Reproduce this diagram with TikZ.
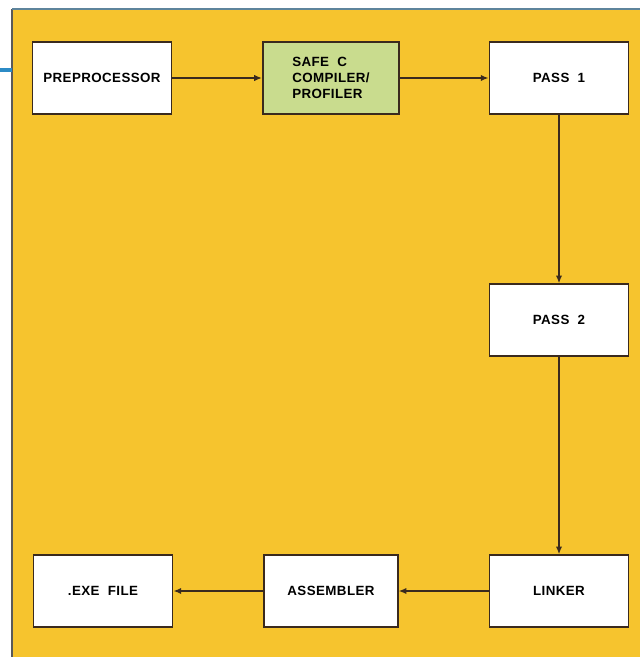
\documentclass[tikz,border=0pt]{standalone}
\usepackage{fontspec}
\setsansfont{Liberation Sans}[LetterSpace=3]
\usepackage{tikz}
\usetikzlibrary{arrows.meta}
\definecolor{panel}{HTML}{F6C42E}
\definecolor{safegreen}{HTML}{C9DC8E}
\definecolor{edgeblue}{HTML}{2C8BC6}
\definecolor{ink}{HTML}{3A2A1E}
\tikzset{
box/.style = {rectangle, draw=ink, line width=1.2pt, fill=white,
              minimum width=#1, minimum height=51pt,
              font=\sffamily\bfseries\fontsize{9.5}{11.5}\selectfont},
box/.default = 99pt, % width of the box
link/.style = {draw=ink, line width=1pt, -{Latex[length=5.5pt,width=4.5pt]}}
}

\begin{document}
\begin{tikzpicture}[x=0.025cm, y=-0.025cm]
    \useasboundingbox (0,0) rectangle (640,657);
    % backdrop and its frame
    \fill[panel] (12,9) rectangle (640,657);
    \draw[gray!70!black, line width=0.8pt] (12,657) -- (12,9);
    \draw[gray!60!edgeblue, line width=1pt] (12,9) -- (640,9);
    \draw[edgeblue, line width=3pt] (0,70) -- (12,70);

    \node[box] (prep) at (102,78) {PREPROCESSOR};
    \node[box=97pt, fill=safegreen, align=left] (safec) at (331,78)
        {SAFE\ \ C\\COMPILER/\\PROFILER};
    \node[box] (pass1) at (559,78) {PASS\ \ 1};
    \node[box] (pass2) at (559,320) {PASS\ \ 2};
    \node[box] (linker) at (559,591) {LINKER};
    \node[box=95pt] (asm) at (331,591) {ASSEMBLER};
    \node[box] (exe) at (103,591) {.EXE\ \ FILE};

    \draw[link] (prep) -- (safec);
    \draw[link] (safec) -- (pass1);
    \draw[link] (pass1) -- (pass2);
    \draw[link] (pass2) -- (linker);
    \draw[link] (linker) -- (asm);
    \draw[link] (asm) -- (exe);
\end{tikzpicture}
\end{document}
